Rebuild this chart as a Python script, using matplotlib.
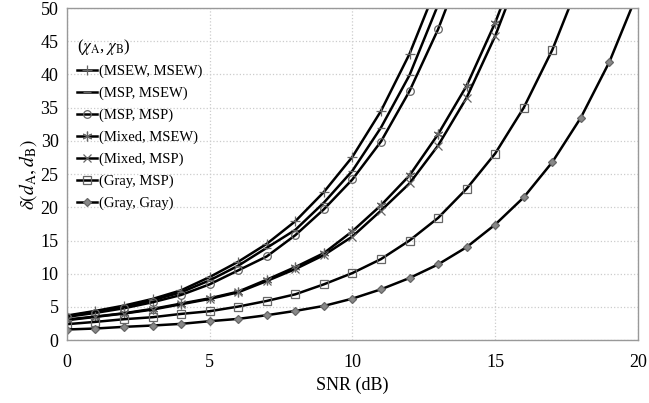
import numpy as np
import matplotlib.pyplot as plt

plt.rcParams['font.family'] = 'Liberation Serif'
plt.rcParams['mathtext.fontset'] = 'stix'

snr = np.arange(0, 21)

msew_msew = [3.7, 4.4, 5.2, 6.2, 7.5, 9.5, 11.8, 14.5, 17.9, 22.3, 27.6, 34.5, 43.1, 53.8]
msp_msew = [3.6, 4.3, 5.0, 6.0, 7.2, 9.0, 11.2, 13.9, 16.6, 20.7, 25.5, 32.0, 39.9, 50.5]
msp_msp = [3.5, 4.1, 4.8, 5.7, 6.8, 8.4, 10.5, 12.6, 15.8, 19.7, 24.2, 29.9, 37.5, 46.8, 58.0]
mixed_msew = [3.1, 3.55, 4.05, 4.7, 5.5, 6.3, 7.3, 9.1, 11.0, 13.1, 16.4, 20.3, 24.8, 31.0, 38.3, 47.8, 59.0]
mixed_msp = [3.0, 3.5, 4.0, 4.6, 5.4, 6.2, 7.2, 8.9, 10.7, 12.8, 15.6, 19.5, 23.6, 29.3, 36.5, 45.8, 57.0]
gray_msp = [2.4, 2.75, 3.15, 3.45, 3.95, 4.35, 5.05, 5.9, 6.9, 8.4, 10.1, 12.2, 15.0, 18.4, 22.8, 28.1, 35.0, 43.7, 54.5]
gray_gray = [1.6, 1.75, 2.0, 2.2, 2.45, 2.85, 3.2, 3.75, 4.4, 5.15, 6.25, 7.65, 9.35, 11.4, 14.0, 17.4, 21.5, 26.8, 33.5, 41.9, 52.4]

labels = ['(MSEW, MSEW)', '(MSP, MSEW)', '(MSP, MSP)', '(Mixed, MSEW)',
          '(Mixed, MSP)', '(Gray, MSP)', '(Gray, Gray)']
series = [msew_msew, msp_msew, msp_msp, mixed_msew, mixed_msp, gray_msp, gray_gray]
markers = ['+', '_', 'o', (6, 2, 0), 'x', 's', 'D']
msizes = [7, 6, 5.5, 7, 6, 6, 4.5]
faces = ['none', 'none', 'none', 'none', 'none', 'none', '#888888']

fig, ax = plt.subplots(figsize=(6.49, 4.03), dpi=100)
fig.subplots_adjust(left=0.103, right=0.983, bottom=0.156, top=0.980)

for y, lab, m, ms, fc in zip(series, labels, markers, msizes, faces):
    ax.plot(snr[:len(y)], y, color='black', lw=1.8, marker=m, ms=ms,
            mec='#666666', mfc=fc, mew=0.9, label=lab)

ax.set_xlim(0, 20)
ax.set_ylim(0, 50)
ax.set_xticks(range(0, 21, 5))
ax.set_yticks(range(0, 51, 5))
ax.tick_params(length=0, labelsize=13, pad=6)
ax.tick_params(axis='x', pad=10)
ax.grid(True, ls=':', color='#cccccc', lw=0.9)
for s in ax.spines.values():
    s.set_color('#999999')
    s.set_linewidth(1.0)

ax.set_xlabel('SNR (dB)', fontsize=13, labelpad=4)
ax.set_ylabel(r'$\delta(d_\mathrm{A},d_\mathrm{B})$', fontsize=14, labelpad=1)

leg = ax.legend(title=r'($\chi_\mathrm{A}$, $\chi_\mathrm{B}$)', loc='upper left',
                bbox_to_anchor=(0.0, 0.945), frameon=False, fontsize=10.5,
                title_fontsize=12, handlelength=1.4, handletextpad=0.1,
                labelspacing=0.58, borderaxespad=0.3)
leg._legend_box.align = 'left'

fig.savefig('out.png', dpi=100)
